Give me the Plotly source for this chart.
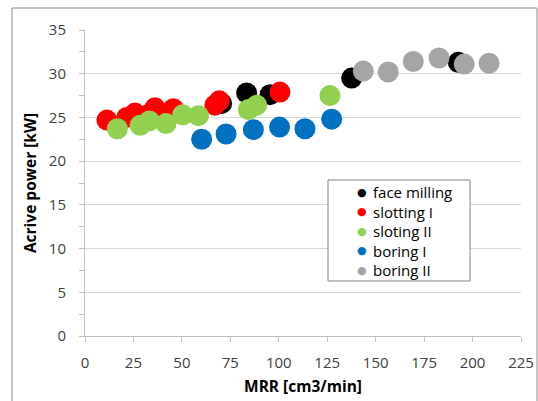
import plotly.graph_objects as go

series_names = ["face milling", "slotting I", "sloting II", "boring I", "boring II"]
colors = ["#000000", "#ff0000", "#92d050", "#0070c0", "#a5a5a5"]

face_x = [70.5, 83.4, 95.5, 137.6, 192.6]
face_y = [26.6, 27.8, 27.6, 29.5, 31.3]

slot1_x = [11.3, 21.5, 25.8, 32.5, 36.1, 45.6, 67.0, 69.3, 100.6]
slot1_y = [24.7, 25.0, 25.5, 25.3, 26.1, 26.0, 26.4, 26.9, 27.9]

slot2_x = [16.7, 28.4, 33.2, 41.8, 50.4, 58.5, 84.3, 88.6, 126.4]
slot2_y = [23.7, 24.1, 24.6, 24.3, 25.3, 25.2, 25.9, 26.4, 27.5]

bor1_x = [60.2, 72.8, 86.9, 100.4, 113.5, 127.3]
bor1_y = [22.5, 23.1, 23.6, 23.9, 23.7, 24.8]

bor2_x = [143.6, 156.5, 169.4, 182.7, 195.7, 208.5]
bor2_y = [30.3, 30.2, 31.4, 31.8, 31.1, 31.2]

xs = [face_x, slot1_x, slot2_x, bor1_x, bor2_x]
ys = [face_y, slot1_y, slot2_y, bor1_y, bor2_y]

x_ticks = list(range(0, 226, 25))
y_ticks = list(range(0, 36, 5))

FONT = "Open Sans"
L, R, T, B = 85, 17, 30, 65
PW, PH = 538 - L - R, 401 - T - B

def px_x(p):
    return (p - L) / PW

def px_y(p):
    return (401 - B - p) / PH

fig = go.Figure()
for name, c, x, y in zip(series_names, colors, xs, ys):
    fig.add_trace(go.Scatter(x=x, y=y, mode="markers", name=name, showlegend=False,
                             marker=dict(size=21, color=c, line=dict(width=0))))

fig.update_layout(
    width=538, height=401,
    margin=dict(l=L, r=R, t=T, b=B, autoexpand=False),
    paper_bgcolor="white", plot_bgcolor="white",
    font=dict(family=FONT, size=15, color="#404040"),
    showlegend=False,
    xaxis=dict(range=[0, 225], tickvals=x_ticks, showgrid=False, zeroline=False,
               showline=True, linecolor="#bfbfbf", linewidth=1, automargin=False,
               ticks="outside", ticklen=5, tickcolor="#bfbfbf", ticklabelstandoff=8,
               title=dict(text="<b>MRR [cm3/min]</b>", font=dict(family=FONT, size=15.5, color="#000000"), standoff=10),
               tickfont=dict(family=FONT, size=15, color="#404040")),
    yaxis=dict(range=[0, 35], tickvals=y_ticks, showgrid=True, gridcolor="#d9d9d9", gridwidth=1,
               zeroline=False, showline=True, linecolor="#bfbfbf", linewidth=1, automargin=False,
               ticks="outside", ticklen=5, tickcolor="#bfbfbf", ticklabelstandoff=10,
               minor=dict(dtick=2.5, ticks="outside", ticklen=5, tickcolor="#bfbfbf", showgrid=False),
               title=dict(text="<b>Acrive power [kW]</b>", font=dict(family=FONT, size=15.5, color="#000000"), standoff=8),
               tickfont=dict(family=FONT, size=15, color="#404040")),
)

# outer chart border
fig.add_shape(type="rect", xref="paper", yref="paper",
              x0=px_x(12), x1=px_x(537), y0=px_y(420), y1=px_y(8),
              line=dict(color="#898989", width=1), fillcolor="rgba(0,0,0,0)", layer="below")
# legend box
fig.add_shape(type="rect", xref="paper", yref="paper",
              x0=px_x(328), x1=px_x(470), y0=px_y(281), y1=px_y(180),
              line=dict(color="#808080", width=1), fillcolor="white", layer="above")

row_y = [192, 211.5, 231, 250.5, 270]
for c, ry in zip(colors, row_y):
    fig.add_annotation(xref="paper", yref="paper", x=px_x(362), y=px_y(ry),
                       xanchor="center", yanchor="middle", showarrow=False, borderpad=0,
                       text="●", font=dict(family="DejaVu Sans", size=11, color=c))
fig.add_annotation(xref="paper", yref="paper", x=px_x(372), y=px_y(231),
                   xanchor="left", yanchor="middle", align="left", showarrow=False, borderpad=0,
                   text="<br>".join(series_names),
                   font=dict(family=FONT, size=15, color="#000000"))

fig.write_html("out.html", config={"displayModeBar": False},
               post_script="document.body.style.margin='0';")
